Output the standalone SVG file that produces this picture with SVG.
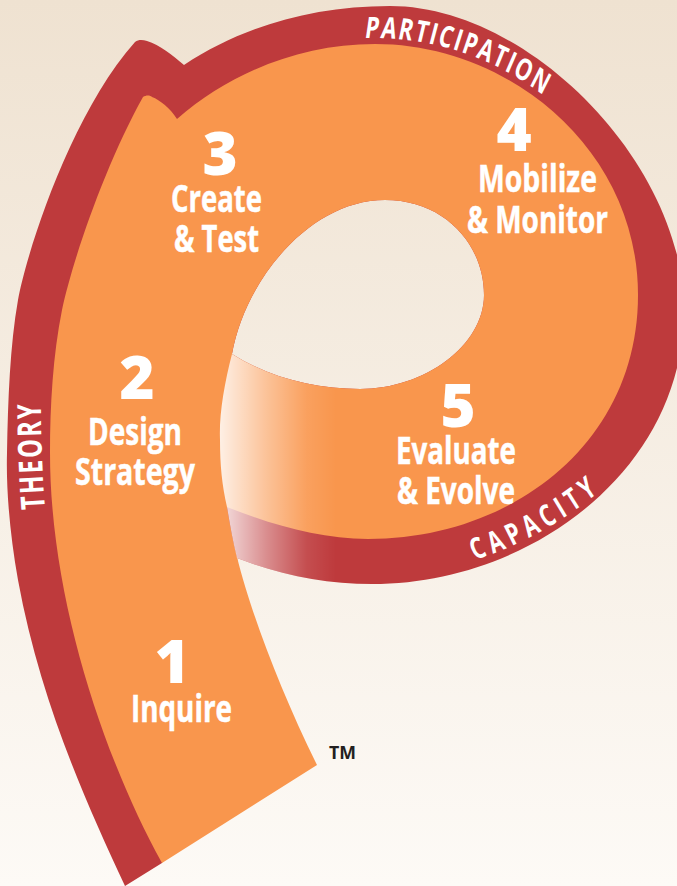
<svg xmlns="http://www.w3.org/2000/svg" width="677" height="886" viewBox="0 0 677 886">
<style>
text{font-family:"Open Sans","Liberation Sans",sans-serif;fill:#fff}
.n{font-size:60px;font-weight:800}
.l{font-size:38px;font-weight:700;stroke:#fff;stroke-width:.5px}
.a{font-size:30px;font-weight:700}
.tm{font-size:18px;font-weight:700;fill:#231f20}
</style>
<defs>
<linearGradient id="bg" x1="0" y1="0" x2="0" y2="1"><stop offset="0" stop-color="#efe2d1"/><stop offset="1" stop-color="#fdfaf6"/></linearGradient>
<linearGradient id="fade" gradientUnits="userSpaceOnUse" x1="219" y1="0" x2="336" y2="0"><stop offset="0" stop-color="#fff" stop-opacity=".86"/><stop offset=".41" stop-color="#fff" stop-opacity=".42"/><stop offset=".75" stop-color="#fff" stop-opacity=".1"/><stop offset="1" stop-color="#fff" stop-opacity="0"/></linearGradient>
<path id="p-part" d="M0,0 Q132.8,-33.6 265.7,0"/>
<path id="p-cap" d="M0,0 Q100,14 200,0"/>
<path id="p-the" d="M0,0 Q73.6,-2 147.2,0"/>
</defs>
<rect id="background" width="677" height="886" fill="url(#bg)"/>
<g id="spiral">
<path id="ring" fill="#be3a3c" fill-rule="evenodd" d="M125,886 C85,800 40,700 18,580 C10,535 6,490 7,453 C8,400 10,345 18,300 C26,255 70,115 135,42 C139,39 143,40 147,41 C160,45 172,55 184,65 C240,28 310,6 390,6 C530,6 684,165 684,310 C684,470 530,584 372,584 C325,584 280,575 237,558 L240,600 L162,863 Z M232,354 C245,280 310,200 385,200 C445,200 484,245 484,295 C484,345 425,389 360,389 C315,389 270,378 232,354 Z"/>
<path id="band" fill="#f9964d" fill-rule="evenodd" d="M162,863 C105,760 50,600 50,453 C50,405 53,355 62,310 C72,262 105,165 143,97 C146,95 150,95 152,97 C160,100 170,108 177,119 C230,73 300,44 375,44 C510,44 638,150 638,295 C638,445 510,539 368,539 C320,539 272,525 227,507 C230,525 233,542 237,557 C250,610 280,690 317,765 Z M232,354 C245,280 310,200 385,200 C445,200 484,245 484,295 C484,345 425,389 360,389 C315,389 270,378 232,354 Z"/>
<path id="fade-over" fill="url(#fade)" d="M232,354 C224,385 219,415 220,440 C220,465 222,485 227,507 C230,525 233,542 237,558 C280,575 325,584 372,584 L360,389 C315,389 270,378 232,354 Z"/>
</g>
<g id="ring-labels">
<text class="a" transform="translate(364,38) rotate(18) scale(.72,1)"><textPath href="#p-part" textLength="264" lengthAdjust="spacing">PARTICIPATION</textPath></text>
<text class="a" transform="translate(475,560) rotate(-29.05) scale(.72,1)"><textPath href="#p-cap" textLength="195" lengthAdjust="spacing">CAPACITY</textPath></text>
<text class="a" style="font-size:33px" transform="translate(45,509) rotate(-92.2) scale(.72,1)"><textPath href="#p-the" textLength="146" lengthAdjust="spacing">THEORY</textPath></text>
</g>
<g id="node-1"><text class="n" x="172" y="683" text-anchor="middle">1</text><text class="l" x="131" y="722" textLength="101" lengthAdjust="spacingAndGlyphs">Inquire</text></g>
<g id="node-2"><text class="n" x="137" y="399" text-anchor="middle">2</text><text class="l" x="88" y="445" textLength="94" lengthAdjust="spacingAndGlyphs">Design</text><text class="l" x="75" y="485" textLength="120" lengthAdjust="spacingAndGlyphs">Strategy</text></g>
<g id="node-3"><text class="n" x="220" y="175" text-anchor="middle">3</text><text class="l" x="171" y="212" textLength="91" lengthAdjust="spacingAndGlyphs">Create</text><text class="l" x="174" y="252" textLength="85" lengthAdjust="spacingAndGlyphs">&amp; Test</text></g>
<g id="node-4"><text class="n" x="514" y="151" text-anchor="middle">4</text><text class="l" x="478" y="192" textLength="119" lengthAdjust="spacingAndGlyphs">Mobilize</text><text class="l" x="467" y="233" textLength="141" lengthAdjust="spacingAndGlyphs">&amp; Monitor</text></g>
<g id="node-5"><text class="n" x="458" y="427" text-anchor="middle">5</text><text class="l" x="396" y="464" textLength="120" lengthAdjust="spacingAndGlyphs">Evaluate</text><text class="l" x="397" y="504" textLength="118" lengthAdjust="spacingAndGlyphs">&amp; Evolve</text></g>
<text id="tm" class="tm" x="329" y="759" textLength="27" lengthAdjust="spacingAndGlyphs">TM</text>
</svg>
